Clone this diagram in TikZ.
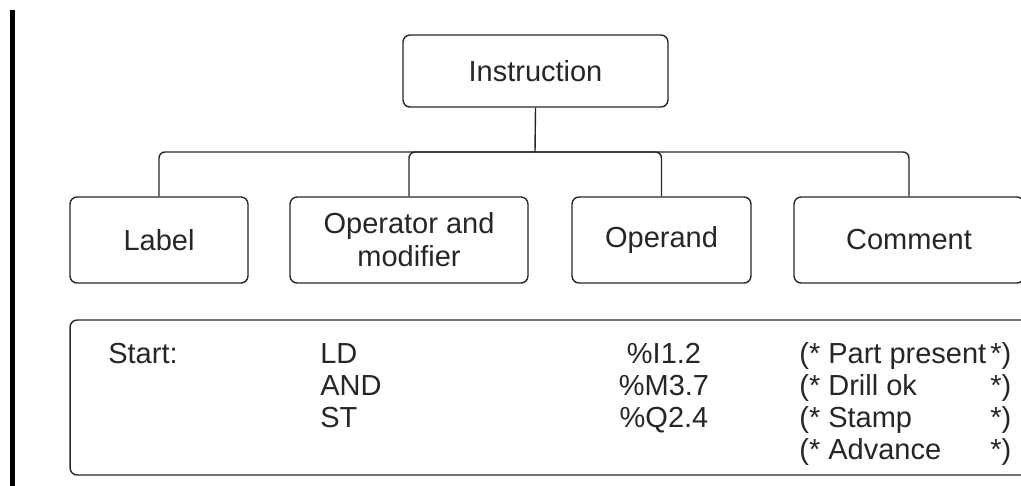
\documentclass[tikz,border=0pt]{standalone}
\usepackage{fontspec}
\setmainfont{Liberation Sans}
\begin{document}
\begin{tikzpicture}[x=0.02cm, y=-0.02cm,
  ink/.style={black!85},
  box/.style={draw=black!85, line width=0.8pt, rounded corners=0.14cm,
    inner sep=0pt, align=center, text=black!85,
    font=\fontsize{16.5pt}{18.8pt}\selectfont},
  conn/.style={draw=black!85, line width=0.8pt, rounded corners=0.12cm},
  txt/.style={inner sep=0pt, text=black!85,
    font=\fontsize{16.5pt}{18.8pt}\selectfont}]
  \useasboundingbox (0,0) rectangle (1021,485);
  \clip (0,0) rectangle (1021,485);

  % margin rule on the left
  \fill[black] (10,10) rectangle (15,490);

  % tree of the instruction parts
  \node[box, minimum width=5.3cm, minimum height=1.44cm] (instr) at (535.5,71) {Instruction};
  \node[box, minimum width=3.56cm, minimum height=1.72cm] (label) at (159,240) {Label};
  \node[box, minimum width=4.76cm, minimum height=1.72cm] (oper) at (409,240) {Operator and\\modifier};
  \node[box, minimum width=3.58cm, minimum height=1.72cm] (operand) at (661.5,240) {Operand};
  \node[box, minimum width=4.6cm, minimum height=1.72cm] (comment) at (909,240) {Comment};

  \coordinate (bus) at (535,152);
  \draw[conn] (instr.south) -- (bus);
  \draw[conn] (bus) -| (label.north);
  \draw[conn] (bus) -| (oper.north);
  \draw[conn] (bus) -| (operand.north);
  \draw[conn] (bus) -| (comment.north);

  % example program
  \node[box, minimum width=19.4cm, minimum height=3.1cm] (code) at (555,397.5) {};

  \node[txt, anchor=base west] (lbl) at (108,363) {Start:};
  \node[txt, anchor=base west] (op1) at (320,363) {LD};
  \node[txt, anchor=base west] (op2) at (320,395) {AND};
  \node[txt, anchor=base west] (op3) at (320,427) {ST};

  \node[txt, anchor=base] (arg1) at (664,363) {\%I1.2};
  \node[txt, anchor=base] (arg2) at (664,395) {\%M3.7};
  \node[txt, anchor=base] (arg3) at (664,427) {\%Q2.4};

  \node[txt, anchor=base west] (c1) at (799,363) {(* Part present};
  \node[txt, anchor=base west] (c2) at (799,395) {(* Drill ok};
  \node[txt, anchor=base west] (c3) at (799,427) {(* Stamp};
  \node[txt, anchor=base west] (c4) at (799,459) {(* Advance};
  \node[txt, anchor=base west] (e1) at (990,363) {*)};
  \node[txt, anchor=base west] (e2) at (990,395) {*)};
  \node[txt, anchor=base west] (e3) at (990,427) {*)};
  \node[txt, anchor=base west] (e4) at (990,459) {*)};
\end{tikzpicture}
\end{document}
